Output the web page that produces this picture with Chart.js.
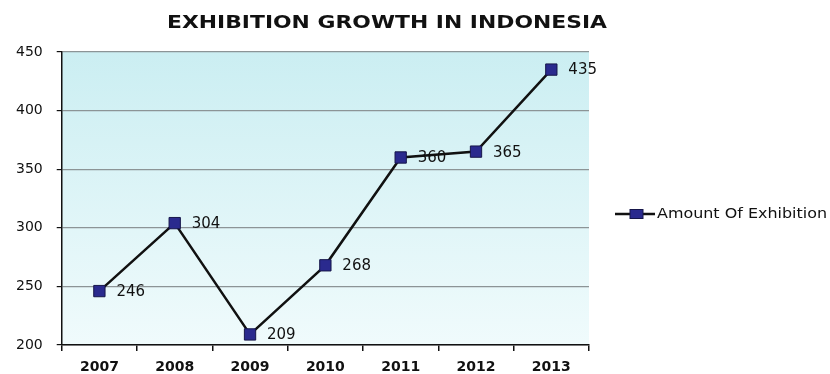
<!DOCTYPE html>
<html>
<head>
<meta charset="utf-8">
<script src="https://cdn.jsdelivr.net/npm/chart.js@4"></script>
<style>
  html, body { margin: 0; padding: 0; background: #fff; }
  #wrap { width: 830px; height: 374px; }
</style>
</head>
<body>
<div id="wrap"><canvas id="c" width="830" height="374"></canvas></div>
<script>
var YEARS = ['2007', '2008', '2009', '2010', '2011', '2012', '2013'];
var EXHIBITIONS = [246, 304, 209, 268, 360, 365, 435];
var Y_TICKS = [200, 250, 300, 350, 400, 450];
var TITLE = 'EXHIBITION GROWTH IN INDONESIA';
var SERIES_NAME = 'Amount Of Exhibition';

var FONT = "'DejaVu Sans', 'Liberation Sans', Arial, sans-serif";
var INK = '#111111';
var MARKER = '#2a2a8e';
var MARKER_EDGE = '#16164a';

// text squeezed/stretched to a given width (the original is rendered wide)
function wideText(ctx, text, left, y, width) {
  var w = ctx.measureText(text).width;
  ctx.save();
  ctx.translate(left, y);
  ctx.scale(width / w, 1);
  ctx.textAlign = 'left';
  ctx.fillText(text, 0, 0);
  ctx.restore();
}

// gradient fill behind the plot + value labels + title + legend
var decor = {
  id: 'decor',
  beforeDraw: function (chart) {
    var a = chart.chartArea, ctx = chart.ctx;
    var g = ctx.createLinearGradient(0, a.top, 0, a.bottom);
    g.addColorStop(0, '#cbeef2');
    g.addColorStop(1, '#f0fbfc');
    ctx.save();
    ctx.fillStyle = g;
    ctx.fillRect(a.left, a.top, a.right - a.left, a.bottom - a.top);
    ctx.restore();
  },
  afterDraw: function (chart) {
    var ctx = chart.ctx;
    var meta = chart.getDatasetMeta(0);
    ctx.save();
    ctx.fillStyle = INK;
    ctx.font = '15px ' + FONT;
    ctx.textBaseline = 'middle';
    ctx.textAlign = 'left';
    meta.data.forEach(function (pt, i) {
      ctx.fillText(String(EXHIBITIONS[i]), pt.x + 17, pt.y + 1);
    });

    ctx.font = 'bold 18px ' + FONT;
    wideText(ctx, TITLE, 167, 23, 440);

    // legend
    var ly = 214;
    ctx.strokeStyle = INK;
    ctx.lineWidth = 2.5;
    ctx.beginPath();
    ctx.moveTo(615, ly);
    ctx.lineTo(655, ly);
    ctx.stroke();
    ctx.fillStyle = MARKER;
    ctx.strokeStyle = MARKER_EDGE;
    ctx.lineWidth = 1;
    ctx.fillRect(630, ly - 4.5, 13, 9);
    ctx.strokeRect(630, ly - 4.5, 13, 9);
    ctx.fillStyle = INK;
    ctx.font = '14px ' + FONT;
    wideText(ctx, SERIES_NAME, 657, ly, 170);
    ctx.restore();
  }
};

new Chart(document.getElementById('c').getContext('2d'), {
  type: 'line',
  data: {
    labels: YEARS,
    datasets: [{
      label: SERIES_NAME,
      data: EXHIBITIONS,
      borderColor: INK,
      borderWidth: 2.5,
      tension: 0,
      pointStyle: 'rect',
      pointRadius: 8,
      pointHoverRadius: 8,
      pointBackgroundColor: MARKER,
      pointBorderColor: MARKER_EDGE,
      pointBorderWidth: 1
    }]
  },
  options: {
    responsive: false,
    animation: false,
    layout: { padding: { left: 2, right: 241, top: 52, bottom: -9 } },
    plugins: {
      legend: { display: false },
      title: { display: false },
      tooltip: { enabled: false }
    },
    scales: {
      x: {
        offset: true,
        grid: { offset: true, drawOnChartArea: false, color: INK, tickLength: 6, lineWidth: 1.5 },
        border: { color: INK, width: 1.5 },
        ticks: { color: INK, padding: 7.6, font: { family: FONT, size: 14, weight: 'bold' } }
      },
      y: {
        min: 200,
        max: 450,
        afterBuildTicks: function (axis) {
          axis.ticks = Y_TICKS.map(function (v) { return { value: v }; });
        },
        grid: { color: '#8c9496', lineWidth: 1.2, tickLength: 5, tickColor: INK },
        border: { color: INK, width: 1.5 },
        ticks: { color: INK, padding: 14, font: { family: FONT, size: 14 } }
      }
    }
  },
  plugins: [decor]
});
</script>
</body>
</html>
